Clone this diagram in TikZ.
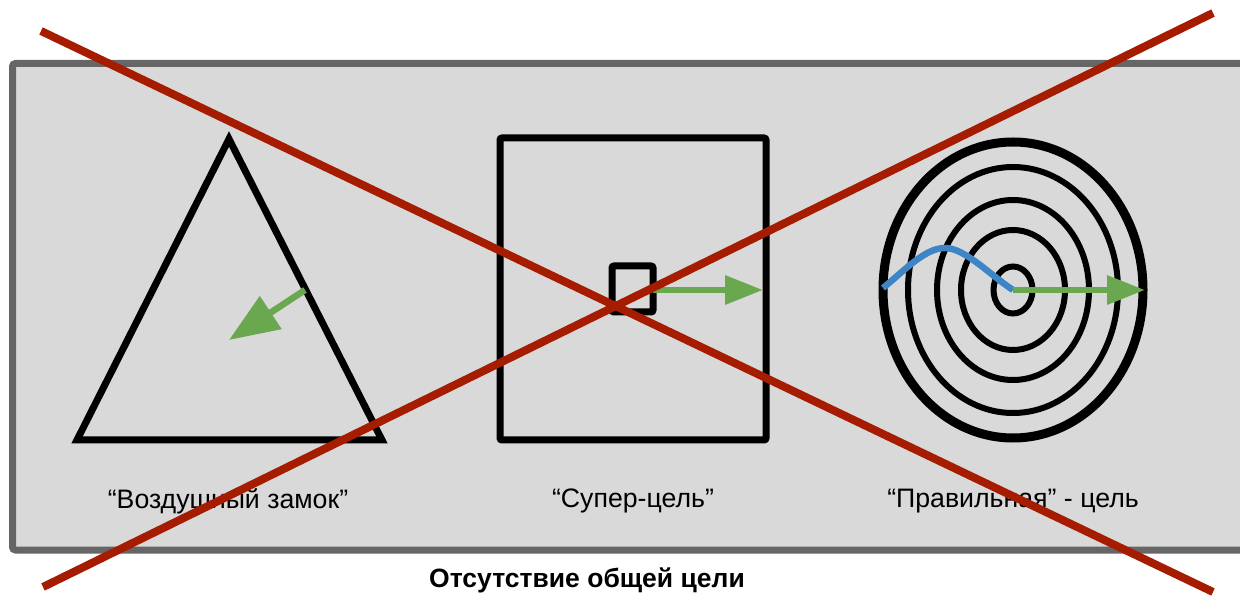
\documentclass[tikz,border=0pt]{standalone}
\usepackage{fontspec}
\setmainfont{Liberation Sans}
\usetikzlibrary{arrows.meta}
\definecolor{panelfill}{HTML}{D9D9D9}
\definecolor{panelline}{HTML}{666666}
\definecolor{crossred}{HTML}{A61C00}
\definecolor{arrgreen}{HTML}{6AA84F}
\definecolor{pathblue}{HTML}{3D85C6}
\tikzset{
  shapeline/.style={draw=black, line width=7pt},
  greenarrow/.style={draw=arrgreen, line width=6.5pt, -{Triangle[length=38pt,width=28pt]}},
  crossline/.style={draw=crossred, line width=8pt},
  caption/.style={font=\fontsize{26.7}{32}\selectfont, inner sep=0pt, anchor=center},
  title/.style={font=\fontsize{26.5}{32}\selectfont\bfseries, inner sep=0pt, anchor=center},
}
\begin{document}
\begin{tikzpicture}[x=1pt,y=-1pt]
\useasboundingbox (0,0) rectangle (1240,601);
% panel
\draw[fill=panelfill, draw=panelline, line width=7pt, rounded corners=3pt] (12.5,63.5) rectangle (1260,550);
% triangle
\coordinate (tA) at (229,139);
\coordinate (tB) at (77,440);
\coordinate (tC) at (382,440);
\draw[shapeline] (tA) -- (tB) -- (tC) -- cycle;
\coordinate (ta1) at (305,290);
\coordinate (ta2) at (229,340);
\draw[greenarrow, -{Triangle[length=50pt,width=38pt]}] (ta1) -- (ta2);
% square
\draw[shapeline, rounded corners=2pt] (500,138) rectangle (766,440);
\draw[shapeline, rounded corners=2pt] (612,266) rectangle (653,312);
\coordinate (sa1) at (653,290);
\coordinate (sa2) at (763,290);
\draw[greenarrow] (sa1) -- (sa2);
% target
\coordinate (tc) at (1013,290);
\draw[black, line width=9pt] (tc) ellipse [x radius=130, y radius=148];
\draw[black, line width=6pt] (tc) ellipse [x radius=105, y radius=123];
\draw[black, line width=6pt] (tc) ellipse [x radius=76, y radius=90];
\draw[black, line width=6pt] (tc) ellipse [x radius=52, y radius=60];
\draw[black, line width=6pt] (tc) ellipse [x radius=19.5, y radius=23.5];
\coordinate (b0) at (883,288);
\draw[pathblue, line width=6.5pt] (b0) .. controls (905,270) and (925,248) .. (945,248) .. controls (965,248) and (990,275) .. (tc);
\coordinate (ga2) at (1145,290);
\draw[greenarrow] (tc) -- (ga2);
% captions
\node[caption] (c1) at (228,501) {“Воздушный замок”};
\node[caption] (c2) at (633,501) {“Супер-цель”};
\node[caption] (c3) at (1013,501) {“Правильная” - цель};
\node[title] (ttl) at (587,580) {Отсутствие общей цели};
% cross
\coordinate (x1) at (41,31);
\coordinate (x2) at (1213,592);
\coordinate (x3) at (43,587);
\coordinate (x4) at (1213,13);
\draw[crossline] (x1) -- (x2);
\draw[crossline] (x3) -- (x4);
\end{tikzpicture}
\end{document}
